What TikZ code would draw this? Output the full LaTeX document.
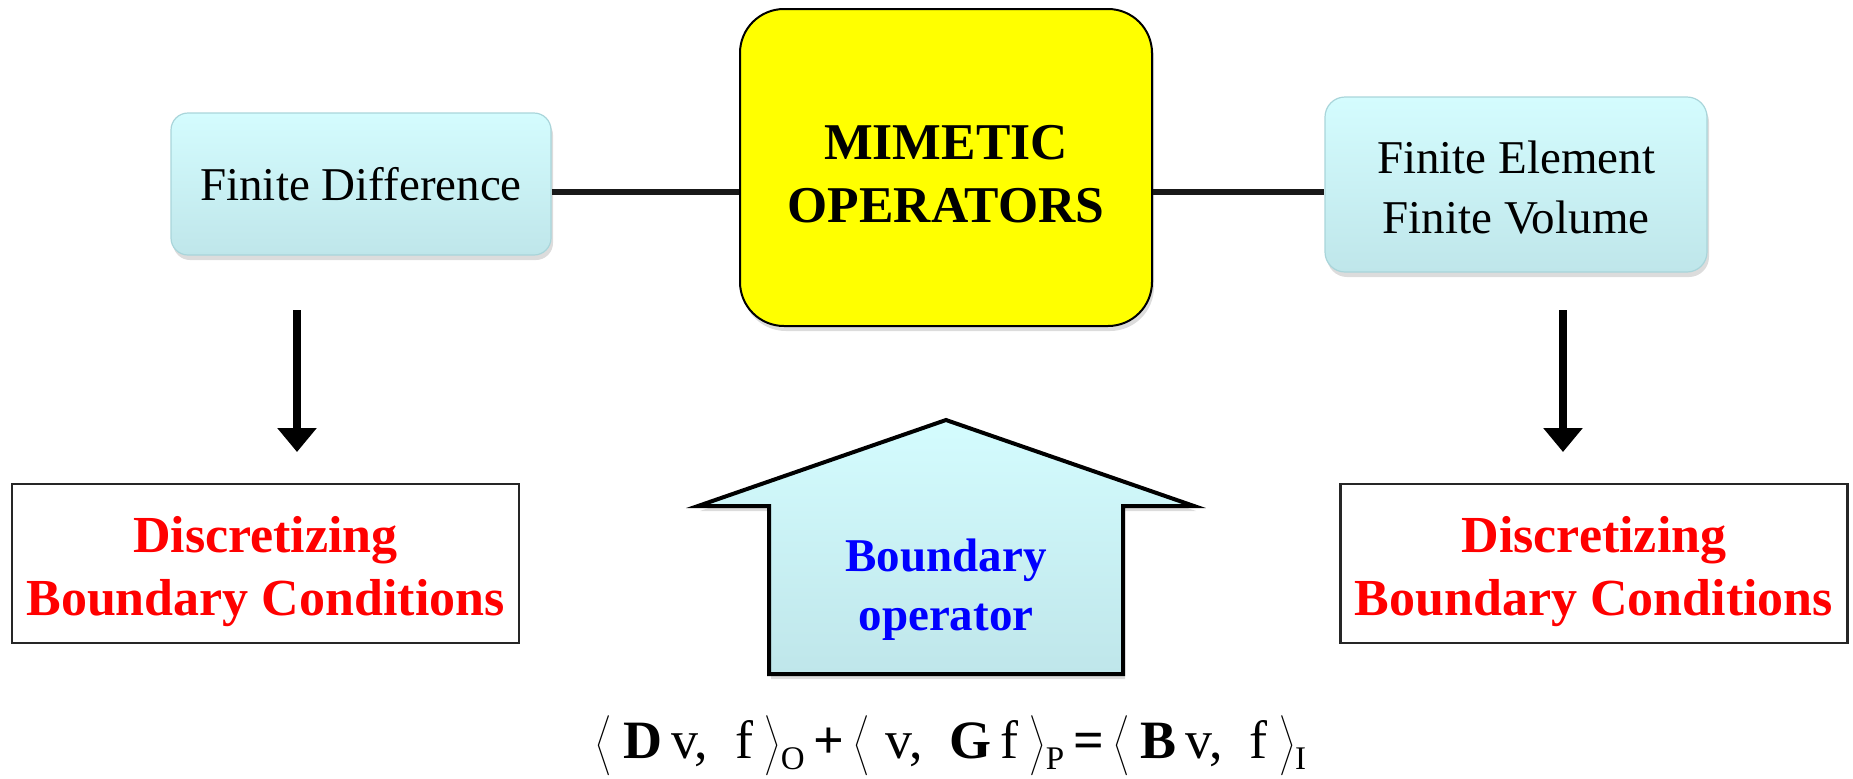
\documentclass[tikz,border=0pt]{standalone}
\usepackage{fontspec}
\setmainfont{Liberation Serif}
\usetikzlibrary{arrows.meta,shadows}
\definecolor{cytop}{HTML}{D4FCFE}
\definecolor{cybot}{HTML}{BFE6EA}
\definecolor{cyedge}{HTML}{A9D5DA}
\definecolor{myyellow}{HTML}{FFFF00}
\definecolor{myred}{HTML}{FF0000}
\definecolor{myblue}{HTML}{0000FF}
\newcommand\lab{$\left\langle\vrule height 24pt depth 10pt width 0pt\right.$}
\newcommand\rab{$\left.\vrule height 24pt depth 10pt width 0pt\right\rangle$}
\newcommand\lowsub[1]{\raisebox{-5.5pt}{\fontsize{16.5}{16.5}\selectfont #1}}
\tikzset{
  shad/.style={drop shadow={opacity=0.28, shadow xshift=1pt, shadow yshift=-2.5pt}},
  softbox/.style={draw=cyedge, line width=0.6pt, top color=cytop, bottom color=cybot,
    inner sep=0pt, align=center, shad},
  centerbox/.style={draw=black, line width=1pt, fill=myyellow, rounded corners=22pt,
    minimum width=206pt, minimum height=158.5pt, inner sep=0pt, shad},
  bcbox/.style={draw=black!85, line width=1.2pt, fill=white, minimum width=253.5pt,
    minimum height=79.5pt, inner sep=0pt},
  bctext/.style={align=center, text=myred, inner sep=0pt,
    font=\fontsize{26}{31.5}\selectfont\bfseries},
  conn/.style={line width=3.25pt, draw=black!90},
  downarrow/.style={line width=4pt, -{Triangle[width=19pt,length=12pt]}},
  uparrowshape/.style={draw=black, line width=2pt, line join=miter, top color=cytop,
    bottom color=cybot, shad}
}
\begin{document}
\begin{tikzpicture}[x=0.5pt,y=-0.5pt]
\useasboundingbox (0,0) rectangle (1853,778);

% top row
\node[softbox, rounded corners=8.5pt, minimum width=190pt, minimum height=71pt,
  font=\fontsize{23.5}{29}\selectfont] (fd) at (361,184) {Finite Difference};
\node[centerbox] (mo) at (946,167.5) {};
\node[align=center, inner sep=0pt, font=\fontsize{25.8}{31.5}\selectfont\bfseries] (motext) at (946,174) {MIMETIC\\OPERATORS};
\node[softbox, rounded corners=10pt, minimum width=191pt, minimum height=87.5pt] (fe) at (1516,184.5) {};
\node[align=center, inner sep=0pt, font=\fontsize{23.5}{30}\selectfont] (fetext) at (1516,188) {Finite Element\\Finite Volume};

% horizontal connectors
\coordinate (lineY) at (0,192);
\draw[conn] (fd.east |- lineY) -- (mo.west |- lineY);
\draw[conn] (mo.east |- lineY) -- (fe.west |- lineY);

% bottom boxes
\node[bcbox] (bcl) at (265.5,563.5) {};
\node[bctext] (bcltext) at (265.5,572) {Discretizing\\Boundary Conditions};
\node[bcbox] (bcr) at (1594,563.5) {};
\node[bctext] (bcrtext) at (1594,572) {Discretizing\\Boundary Conditions};

% down arrows
\coordinate (al1) at (297,310);
\coordinate (al2) at (297,452);
\coordinate (ar1) at (1563,310);
\coordinate (ar2) at (1563,452);
\draw[downarrow] (al1) -- (al2);
\draw[downarrow] (ar1) -- (ar2);

% up block arrow
\path[uparrowshape] (946,420) -- (1194,506) -- (1123,506) -- (1123,674) -- (769,674) -- (769,506) -- (698,506) -- cycle;
\node[align=center, text=myblue, font=\fontsize{23.5}{29.5}\selectfont\bfseries] (bo) at (946,590) {Boundary\\operator};

% formula
\node[font=\fontsize{27}{32}\selectfont, inner sep=0pt, anchor=base] (eq) at (951,758)
 {\lab\,\textbf{D}\,v,\ \ f\,\rab\lowsub{O}\,\textbf{+}\,\lab\ v,\ \ \textbf{G}\,f\,\rab\lowsub{P}\,\textbf{=}\,\lab\,\textbf{B}\,v,\ \ f\,\rab\lowsub{I}};
\end{tikzpicture}
\end{document}
